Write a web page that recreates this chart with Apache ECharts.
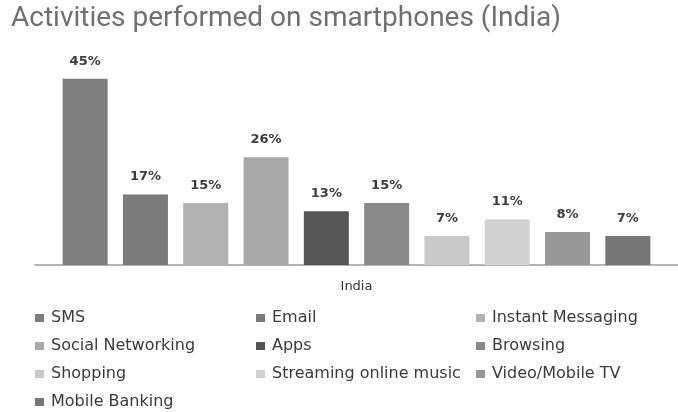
<!DOCTYPE html>
<html>
<head>
<meta charset="utf-8">
<script src="https://cdn.jsdelivr.net/npm/echarts@6/dist/echarts.min.js"></script>
<style>
  html, body { margin: 0; padding: 0; background: #fff; }
  #chart { width: 678px; height: 412px; }
</style>
</head>
<body>
<div id="chart"></div>
<script>
// Share of smartphone users in India performing each activity (%)
const categories = ['India'];
const activities = [
  'SMS', 'Email', 'Instant Messaging', 'Social Networking', 'Apps',
  'Browsing', 'Shopping', 'Streaming online music', 'Video/Mobile TV', 'Mobile Banking'
];
const shares = [45, 17, 15, 26, 13, 15, 7, 11, 8, 7];
const shades = [
  '#7e7e7e', '#7b7b7b', '#b2b2b2', '#a9a9a9', '#555555',
  '#8a8a8a', '#c9c9c9', '#d2d2d2', '#979797', '#767676'
];

const legendFont = {
  fontFamily: 'DejaVu Sans', fontSize: 16, color: '#3a3a3a',
  lineHeight: 18, padding: [0, 0, 0, 2]
};

// three legend columns, filled row by row
function legendColumn(col, left) {
  return {
    orient: 'vertical',
    left: left,
    top: 309,
    padding: 0,
    itemWidth: 9,
    itemHeight: 8,
    itemGap: 10,
    icon: 'rect',
    textStyle: legendFont,
    data: activities.filter((_, i) => i % 3 === col)
  };
}

const chart = echarts.init(document.getElementById('chart'), null, { renderer: 'canvas' });
chart.setOption({
  animation: false,
  title: {
    text: 'Activities performed on smartphones (India)',
    left: 6,
    top: 0,
    textStyle: { fontFamily: 'Roboto', fontSize: 28, fontWeight: 'normal', color: '#707070' }
  },
  legend: [legendColumn(0, 35), legendColumn(1, 256), legendColumn(2, 476)],
  grid: { left: 35, right: 0, top: 58, height: 207 },
  xAxis: {
    type: 'category',
    data: categories,
    axisLine: { lineStyle: { color: '#9a9a9a', width: 1.5 } },
    axisTick: { show: false },
    axisLabel: { margin: 15, fontFamily: 'DejaVu Sans', fontSize: 13, color: '#333' }
  },
  yAxis: {
    type: 'value',
    min: 0,
    max: 50,
    show: false,
    splitLine: { show: false }
  },
  series: activities.map((name, i) => ({
    name: name,
    type: 'bar',
    barWidth: 45,
    barGap: '34%',
    data: [shares[i]],
    itemStyle: { color: shades[i] },
    label: {
      show: true,
      position: 'top',
      distance: 11,
      formatter: '{c}%',
      fontFamily: 'DejaVu Sans',
      fontSize: 13,
      fontWeight: 'bold',
      color: '#3c3c3c'
    }
  }))
});
</script>
</body>
</html>
